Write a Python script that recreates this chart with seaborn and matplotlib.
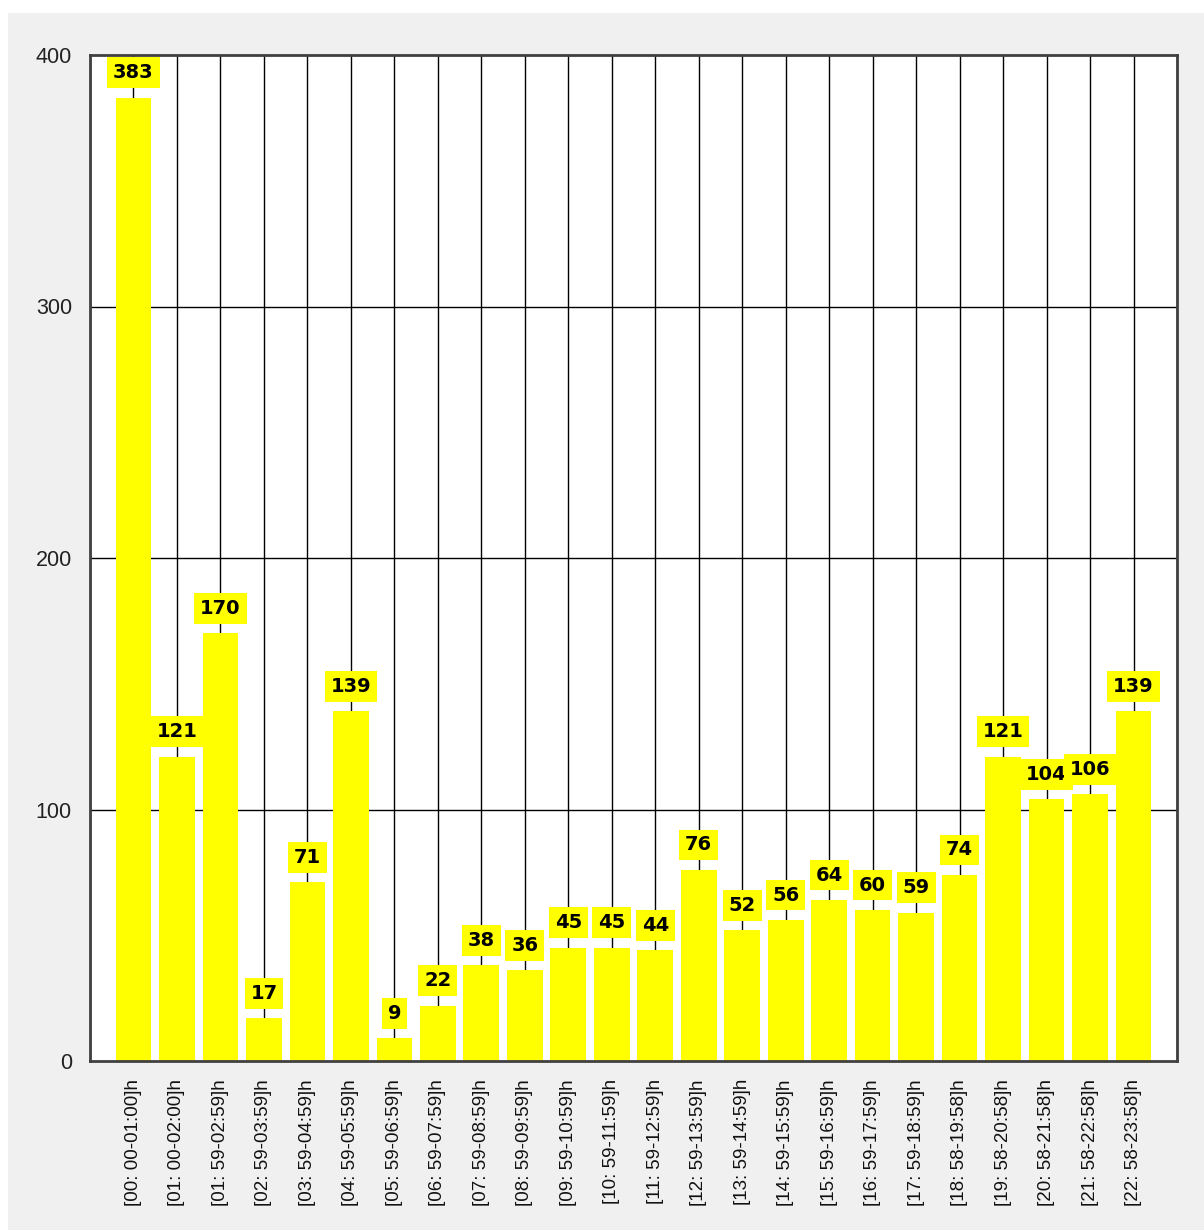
import matplotlib
matplotlib.use("Agg")
import matplotlib.pyplot as plt
import seaborn as sns
import pandas as pd
from matplotlib.patches import Rectangle

categories = [
    "[00: 00-01:00]h", "[01: 00-02:00]h", "[01: 59-02:59]h", "[02: 59-03:59]h",
    "[03: 59-04:59]h", "[04: 59-05:59]h", "[05: 59-06:59]h", "[06: 59-07:59]h",
    "[07: 59-08:59]h", "[08: 59-09:59]h", "[09: 59-10:59]h", "[10: 59-11:59]h",
    "[11: 59-12:59]h", "[12: 59-13:59]h", "[13: 59-14:59]h", "[14: 59-15:59]h",
    "[15: 59-16:59]h", "[16: 59-17:59]h", "[17: 59-18:59]h", "[18: 58-19:58]h",
    "[19: 58-20:58]h", "[20: 58-21:58]h", "[21: 58-22:58]h", "[22: 58-23:58]h",
]
values = [383, 121, 170, 17, 71, 139, 9, 22, 38, 36, 45, 45, 44, 76, 52, 56,
          64, 60, 59, 74, 121, 104, 106, 139]
y_ticks = [0, 100, 200, 300, 400]

df = pd.DataFrame({"cat": categories, "val": values})

sns.set_style("white")
W, H = 1204, 1230
fig = plt.figure(figsize=(W / 100, H / 100), dpi=100, facecolor="white")
fig.patches.append(Rectangle((8 / W, 0), 1 - 8 / W, 1 - 13 / H,
                             transform=fig.transFigure, facecolor="#f0f0f0",
                             edgecolor="none", zorder=-10))
ax = fig.add_axes([90 / W, (H - 1061) / H, 1087 / W, 1006 / H])
ax.set_facecolor("white")

sns.barplot(data=df, x="cat", y="val", color="#ffff00", saturation=1,
            width=0.82, ax=ax, zorder=2)
for p in ax.patches:
    p.set_edgecolor("none")

ax.set_xlim(-1, len(categories))
ax.set_ylim(0, 400)
ax.set_xlabel("")
ax.set_ylabel("")

# gridlines
ax.set_axisbelow(True)
for i in range(-1, len(categories) + 1):
    ax.axvline(i, color="black", lw=1.0, zorder=1)
for yv in y_ticks[1:-1]:
    ax.axhline(yv, color="black", lw=1.0, zorder=1)

xt = list(range(-1, len(categories) + 1))
ax.set_xticks(xt)
ax.set_xticklabels([""] + categories + [""], rotation=90,
                   fontsize=13.5, family="Liberation Sans", color="#111111")
ax.set_yticks(y_ticks)
ax.set_yticklabels([str(v) for v in y_ticks], fontsize=15.5,
                   family="Liberation Sans", color="#222222")
ax.tick_params(axis="both", which="major", length=9, width=1.5,
               color="#404040", pad=4, direction="out")

for s in ax.spines.values():
    s.set_color("#404040")
    s.set_linewidth(2)
    s.set_zorder(5)

for i, v in enumerate(values):
    ax.annotate(str(v), xy=(i, v), xytext=(0, 18), textcoords="offset points",
                ha="center", va="center", fontsize=14, fontweight="bold",
                family="DejaVu Sans", color="black", zorder=6,
                bbox=dict(boxstyle="square,pad=0.3", facecolor="#ffff00",
                          edgecolor="none"))

fig.savefig("out.png", dpi=100, facecolor=fig.get_facecolor())
